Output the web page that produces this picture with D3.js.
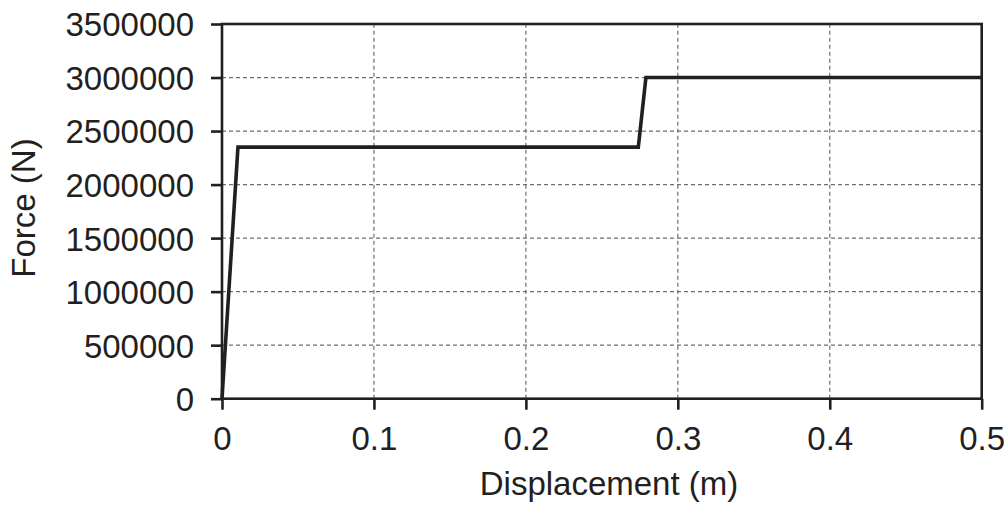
<!DOCTYPE html>
<html>
<head>
<meta charset="utf-8">
<script src="https://cdn.jsdelivr.net/npm/d3@7"></script>
<style>
  body { margin: 0; background: #fff; }
  text { font-family: "Liberation Sans", Arial, sans-serif; fill: #231f20; }
</style>
</head>
<body>
<script>
// force-displacement curve
const dispM = [0, 0.0105, 0.274, 0.279, 0.5]
const forceN = [0, 2350000, 2350000, 3000000, 3000000]
const xTicks = [0, 0.1, 0.2, 0.3, 0.4, 0.5]
const yTicks = [0, 500000, 1000000, 1500000, 2000000, 2500000, 3000000, 3500000]

const W = 1006, H = 505
const m = { left: 222, right: 24.3, top: 24, bottom: 106.3 }
const ink = "#231f20"

const svg = d3.select("body").append("svg").attr("width", W).attr("height", H)

const x = d3.scaleLinear().domain([0, 0.5]).range([m.left, W - m.right])
const y = d3.scaleLinear().domain([0, 3500000]).range([H - m.bottom, m.top])

// dashed grid
svg.append("g").selectAll("line.gx")
  .data(xTicks.slice(1, -1)).enter().append("line")
  .attr("x1", d => x(d)).attr("x2", d => x(d))
  .attr("y1", y(0)).attr("y2", y(3500000))
  .attr("stroke", "#6d6e71").attr("stroke-width", 1.2).attr("stroke-dasharray", "4,3")
svg.append("g").selectAll("line.gy")
  .data(yTicks.slice(1, -1)).enter().append("line")
  .attr("x1", x(0)).attr("x2", x(0.5))
  .attr("y1", d => y(d)).attr("y2", d => y(d))
  .attr("stroke", "#6d6e71").attr("stroke-width", 1.2).attr("stroke-dasharray", "4,3")

// axes
const xAxis = d3.axisBottom(x).tickValues(xTicks).tickFormat(d3.format("")).tickSize(11).tickPadding(18)
const yAxis = d3.axisLeft(y).tickValues(yTicks).tickFormat(d3.format("d")).tickSize(11).tickPadding(17)

const gx = svg.append("g").attr("transform", "translate(0," + y(0) + ")").call(xAxis)
const gy = svg.append("g").attr("transform", "translate(" + x(0) + ",0)").call(yAxis)
for (const g of [gx, gy]) {
  g.select(".domain").remove()
  g.selectAll("line").attr("stroke", ink).attr("stroke-width", 2.6)
  g.selectAll("text").style("font-size", "33px").attr("fill", ink)
}
gx.selectAll("text").attr("dy", 0).attr("y", 51)
gy.selectAll("text").attr("dy", "0.36em")

// frame
svg.append("rect")
  .attr("x", x(0)).attr("y", y(3500000))
  .attr("width", x(0.5) - x(0)).attr("height", y(0) - y(3500000))
  .attr("fill", "none").attr("stroke", ink).attr("stroke-width", 2.6)

// curve
const line = d3.line().x((d, i) => x(dispM[i])).y(d => y(d))
svg.append("path").datum(forceN)
  .attr("d", line)
  .attr("fill", "none").attr("stroke", ink).attr("stroke-width", 3.6)
  .attr("stroke-linejoin", "miter")

// titles
svg.append("text")
  .attr("x", 609).attr("y", 495)
  .attr("text-anchor", "middle").style("font-size", "33px")
  .text("Displacement (m)")
svg.append("text")
  .attr("transform", "translate(35,208) rotate(-90)")
  .attr("text-anchor", "middle").style("font-size", "33px")
  .text("Force (N)")
</script>
</body>
</html>
